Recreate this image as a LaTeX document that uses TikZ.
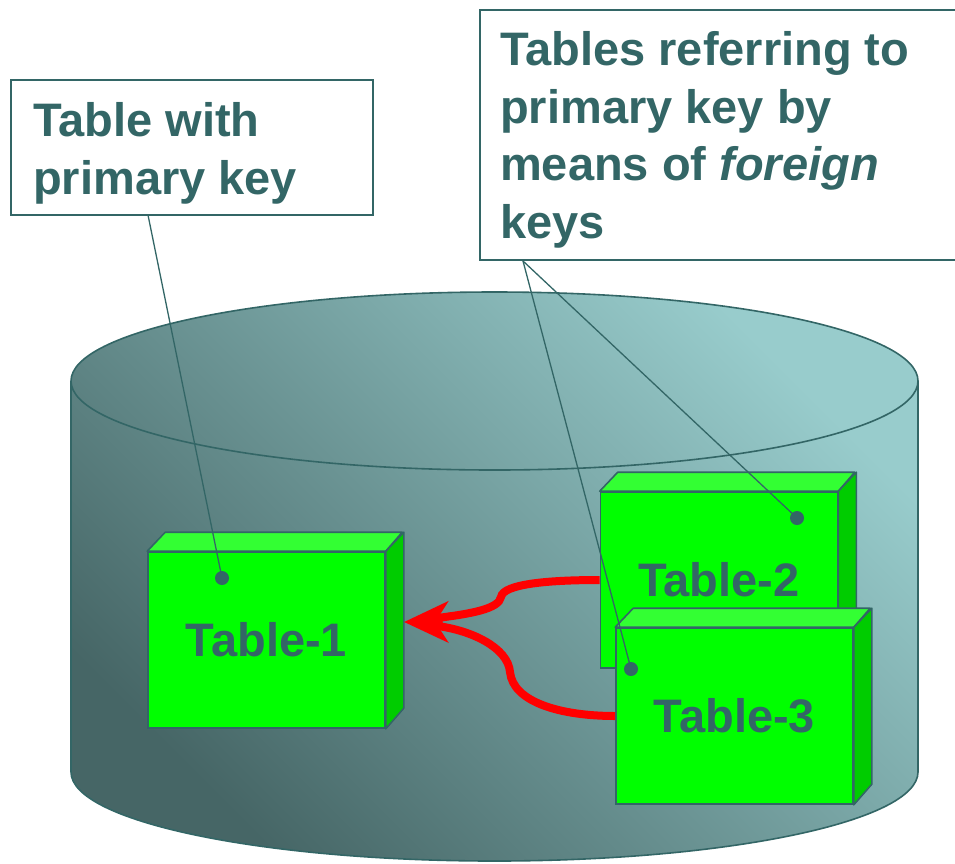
\documentclass[tikz,border=0pt]{standalone}
\usepackage{fontspec}
\setmainfont{Liberation Sans}
\usetikzlibrary{arrows.meta}

\definecolor{inkteal}{RGB}{51,102,102}
\definecolor{drumdark}{RGB}{70,102,102}
\definecolor{drumlight}{RGB}{152,204,204}
\definecolor{facefront}{RGB}{0,255,0}
\definecolor{facetop}{RGB}{51,255,51}
\definecolor{faceside}{RGB}{0,204,0}

\newcommand{\bigbold}{\fontsize{47}{57.5}\selectfont\bfseries}
\newcommand{\tablebox}[3]{%
  \node[frontface] (#1) at (#2) {#3};
  \draw[topface] (#1.north west) -- ++(18,-19) -- ++(237,0)
    -- (#1.north east) -- cycle;
  \draw[sideface] (#1.north east) -- ++(18,-19) -- ++(0,176)
    -- (#1.south east) -- cycle;
}

\begin{document}
\begin{tikzpicture}[x=1pt,y=-1pt,
  outline/.style={draw=inkteal, line width=1.6pt},
  notebox/.style={draw=inkteal, line width=1.4pt, fill=white},
  notetext/.style={text=inkteal, font=\bigbold, align=left, inner sep=0pt},
  frontface/.style={outline, fill=facefront, text=inkteal, font=\bigbold,
    minimum width=237pt, minimum height=176pt, inner sep=0pt},
  topface/.style={outline, fill=facetop, line join=round},
  sideface/.style={outline, fill=faceside, line join=round},
  keydot/.style={circle, fill=inkteal, minimum size=14pt, inner sep=0pt},
  leader/.style={draw=inkteal, line width=1.3pt},
  fkarrow/.style={draw=red, line width=8pt,
    -{Stealth[length=46pt, width=30pt, inset=12pt]}}]

\useasboundingbox (0,0) rectangle (955,863);
\clip (0,0) rectangle (955,863);

% database drum: one shading over the whole silhouette
\begin{scope}
  \clip (71,381) -- (71,772)
    arc[start angle=180, end angle=0, x radius=423.5, y radius=89]
    -- (918,381)
    arc[start angle=0, end angle=-180, x radius=423.5, y radius=89] -- cycle;
  \shade[bottom color=drumdark, top color=drumlight, shading angle=-45]
    (71,291) rectangle (918,862);
\end{scope}
\draw[outline] (71,381) -- (71,772)
    arc[start angle=180, end angle=0, x radius=423.5, y radius=89]
    -- (918,381);
\draw[outline] (494.5,381) ellipse[x radius=423.5, y radius=89];

% tables drawn as boxes
\tablebox{t1}{266.5,640}{Table-1}
\tablebox{t2}{719,580}{Table-2}
\tablebox{t3}{734.5,716}{Table-3}

% foreign key references
\coordinate (tip) at (404,622);
\draw[fkarrow] (t2.west) .. controls (548,580) and (503,584) .. (501,597)
  .. controls (499,609) and (470,614) .. (tip);
\draw[fkarrow] (t3.west) .. controls (560,716) and (513,702) .. (510,672)
  .. controls (508,648) and (472,630) .. (tip);

% key markers
\node[keydot] (d1) at (222,578) {};
\node[keydot] (d2) at (797,518) {};
\node[keydot] (d3) at (631,669) {};

% callouts (the base anchor sits on the last line)
\draw[notebox] (11,80) rectangle (373,215);
\node[notetext, anchor=base west] (noteA) at (33,194) {Table with\\primary key};
\draw[notebox] (480,10) rectangle (970,260);
\node[notetext, anchor=base west] (noteB) at (500,238)
  {Tables referring to\\primary key by\\means of \textit{foreign}\\keys};

\coordinate (la) at (148,215);
\coordinate (lb) at (523,261);
\draw[leader] (la) -- (d1.center);
\draw[leader] (lb) -- (d2.center);
\draw[leader] (lb) -- (d3.center);
\end{tikzpicture}
\end{document}
